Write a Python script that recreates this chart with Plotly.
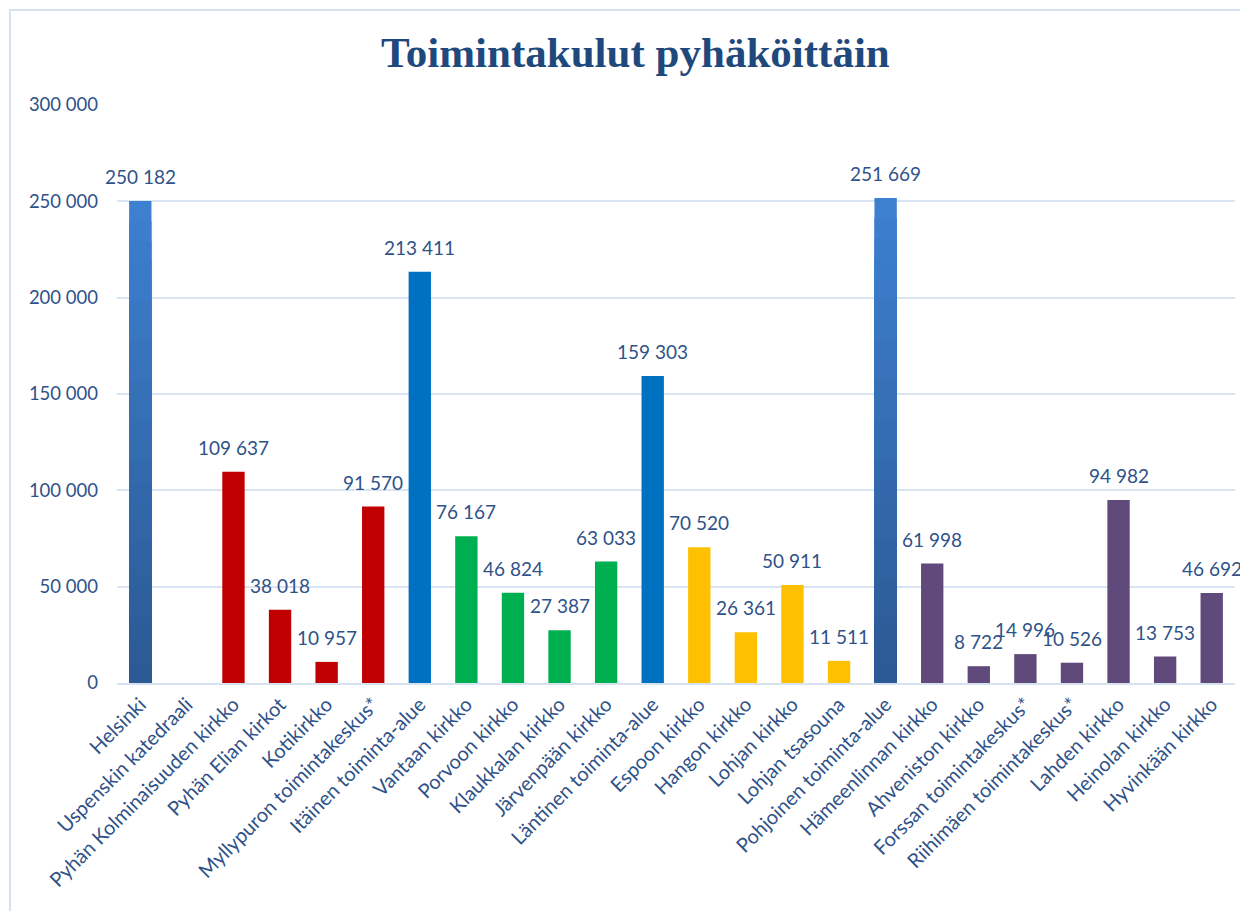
import plotly.graph_objects as go

# categories and values
categories = [
    "Helsinki", "Uspenskin katedraali", "Pyhän Kolminaisuuden kirkko",
    "Pyhän Elian kirkot", "Kotikirkko", "Myllypuron toimintakeskus*",
    "Itäinen toiminta-alue", "Vantaan kirkko", "Porvoon kirkko",
    "Klaukkalan kirkko", "Järvenpään kirkko", "Läntinen toiminta-alue",
    "Espoon kirkko", "Hangon kirkko", "Lohjan kirkko", "Lohjan tsasouna",
    "Pohjoinen toiminta-alue", "Hämeenlinnan kirkko", "Ahveniston kirkko",
    "Forssan toimintakeskus*", "Riihimäen toimintakeskus*", "Lahden kirkko",
    "Heinolan kirkko", "Hyvinkään kirkko",
]
costs = [
    250182, None, 109637, 38018, 10957, 91570, 213411, 76167, 46824, 27387,
    63033, 159303, 70520, 26361, 50911, 11511, 251669, 61998, 8722, 14996,
    10526, 94982, 13753, 46692,
]
# colour group of each bar
groups = [
    "grad", "red", "red", "red", "red", "red", "blue", "green", "green",
    "green", "green", "blue", "yellow", "yellow", "yellow", "yellow", "grad",
    "purple", "purple", "purple", "purple", "purple", "purple", "purple",
]

group_colors = {
    "red": "#C00000", "blue": "#0070C0", "green": "#00B050",
    "yellow": "#FFC000", "purple": "#604A7B",
}
text_color = "#2F5289"

fig = go.Figure()

# gradient bars (Helsinki, Pohjoinen) drawn as overlaid steps, light top -> dark bottom
grad_x = [c for c, g in zip(categories, groups) if g == "grad"]
grad_y = [v for v, g in zip(costs, groups) if g == "grad"]
top_rgb = (0x3D, 0x80, 0xD0)
bot_rgb = (0x2C, 0x5A, 0x94)
steps = 24
for i in range(steps):
    f = 1 - i / steps
    t = i / (steps - 1)
    rgb = tuple(int(a + (b - a) * t) for a, b in zip(top_rgb, bot_rgb))
    fig.add_trace(go.Bar(
        x=grad_x, y=[v * f for v in grad_y],
        marker=dict(color="rgb(%d,%d,%d)" % rgb, line_width=0),
        hoverinfo="skip", showlegend=False,
    ))

# the other bars
solid_colors = [group_colors.get(g, "rgba(0,0,0,0)") for g in groups]
fig.add_trace(go.Bar(
    x=categories,
    y=[None if g == "grad" else v for v, g in zip(costs, groups)],
    marker=dict(color=solid_colors, line_width=0),
    showlegend=False,
))

# data labels above every bar
for c, v in zip(categories, costs):
    if v is None:
        continue
    fig.add_annotation(
        x=c, y=v, text=f"{v:,}".replace(",", " "),
        showarrow=False, yanchor="bottom", yshift=11,
        font=dict(family="Lato", size=19, color=text_color),
    )

# body margin of the page is 8px, so the figure is 8px smaller than the window
W, H = 1240, 903
ml, mr, mt, mb = 109, 13, 97, 228
pw, ph = W - ml - mr, H - mt - mb

fig.update_layout(
    barmode="overlay",
    bargap=0.52,
    separators=", ",
    width=W, height=H,
    paper_bgcolor="white", plot_bgcolor="white",
    margin=dict(l=ml, r=mr, t=mt, b=mb, autoexpand=False),
    title=dict(
        text="<b>Toimintakulut pyhäköittäin</b>",
        x=0.506, xanchor="center", y=0.951, yanchor="middle",
        font=dict(family="Liberation Serif", size=43, color="#1F497D"),
    ),
)
fig.update_xaxes(
    categoryorder="array", categoryarray=categories,
    range=[-0.5, len(categories) - 0.5],
    tickangle=-45,
    tickfont=dict(family="Lato", size=20, color=text_color),
    showline=True, linecolor="#D6E2F0", linewidth=2,
    ticks="",
)
fig.update_yaxes(
    range=[0, 300000], dtick=50000, tickformat=",",
    tickfont=dict(family="Lato", size=18.5, color=text_color),
    gridcolor="#D9E4F2", gridwidth=2,
    zeroline=False, ticklabelstandoff=18,
)

# outer frame of the chart
fig.add_shape(
    type="rect", xref="paper", yref="paper",
    x0=(2 - ml) / pw, x1=1.2, y0=-0.6, y1=(mt + ph - 2) / ph,
    line=dict(color="#D6E2F0", width=2), fillcolor="rgba(0,0,0,0)",
    layer="below",
)

fig.write_html("out.html")
